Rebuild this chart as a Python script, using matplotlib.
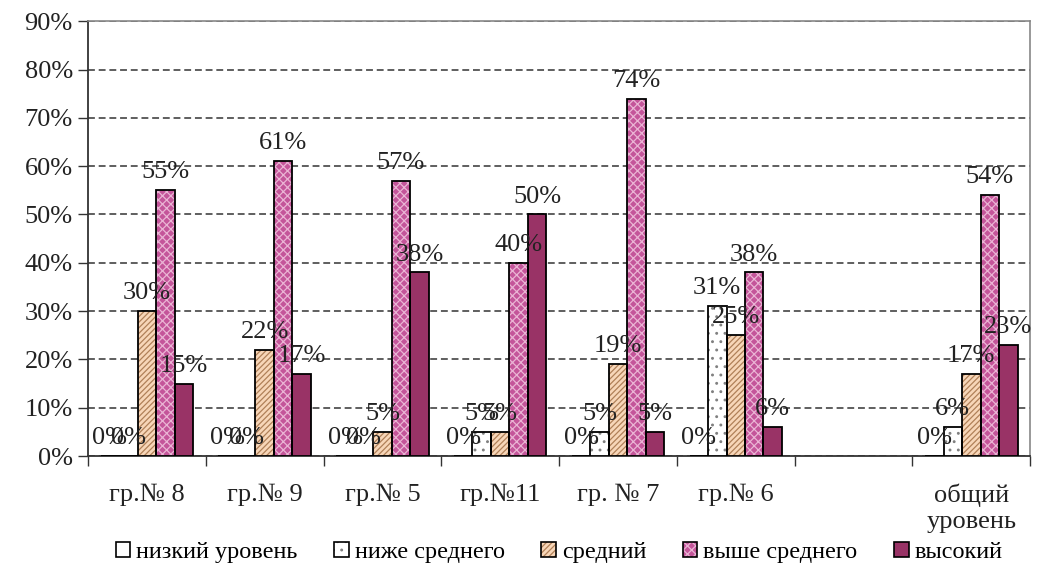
import numpy as np
import matplotlib
matplotlib.use("Agg")
import matplotlib.pyplot as plt
from matplotlib.patches import Patch
from matplotlib.legend_handler import HandlerTuple

plt.rcParams['font.family'] = ['Liberation Serif', 'DejaVu Serif']
plt.rcParams['hatch.linewidth'] = 0.9

categories = ["гр.№ 8", "гр.№ 9", "гр.№ 5", "гр.№11", "гр. № 7", "гр.№ 6", "", "общий\nуровень"]
series_names = ["низкий уровень", "ниже среднего", "средний", "выше среднего", "высокий"]
nan = np.nan
low = [0, 0, 0, 0, 0, 0, nan, 0]
below_avg = [0, 0, 0, 5, 5, 31, nan, 6]
average = [30, 22, 5, 5, 19, 25, nan, 17]
above_avg = [55, 61, 57, 40, 74, 38, nan, 54]
high = [15, 17, 38, 50, 5, 6, nan, 23]
values = [low, below_avg, average, above_avg, high]
yticks = [0, 10, 20, 30, 40, 50, 60, 70, 80, 90]

faces = ["white", "white", "#f7d6b8", "#c4559a", "#993366"]
hatch_cols = ["white", "#808080", "#b08058", "#eab4d4", "#993366"]
hatches = [None, "..", "//////", "xxxx", None]

fig = plt.figure(figsize=(10.48, 5.73), dpi=100)
ax = fig.add_axes([0.084, 0.204, 0.899, 0.759])

x = np.arange(len(categories))
w = 0.157
handles = []
for i, vals in enumerate(values):
    v = np.array(vals, dtype=float)
    pos = x + (i - 2) * w
    ax.bar(pos, v, w, color=faces[i], edgecolor=hatch_cols[i], hatch=hatches[i], linewidth=0, zorder=3)
    ax.bar(pos, v, w, fill=False, edgecolor="black", linewidth=1.3, zorder=4)
    for p, val in zip(pos, v):
        if not np.isnan(val):
            ax.annotate(f"{int(val)}%", (p, val), xytext=(0, 5), textcoords="offset points",
                        ha="center", va="bottom", fontsize=19, color="#222222", zorder=5)
    h1 = Patch(facecolor=faces[i], edgecolor=hatch_cols[i], hatch=hatches[i], linewidth=0)
    h2 = Patch(fill=False, edgecolor="black", linewidth=1.2)
    handles.append((h1, h2))

ax.set_ylim(0, 90)
ax.set_xlim(-0.5, len(categories) - 0.5)
ax.set_yticks(yticks)
ax.set_yticklabels([f"{t}%" for t in yticks], fontsize=19, color="#222222")
ax.yaxis.grid(True, linestyle=(0, (4.5, 2.5)), color="#333333", linewidth=1.1, zorder=0)

ax.set_xticks(x)
ax.set_xticklabels(categories, fontsize=19, color="#222222", linespacing=1.2)
ax.tick_params(axis="x", which="major", length=0, pad=20)
ax.set_xticks(np.arange(-0.5, len(categories)), minor=True)
ax.tick_params(axis="x", which="minor", length=7, width=1, color="#333333")
ax.tick_params(axis="y", length=7, width=1, color="#333333", pad=4)

for s in ["top", "right"]:
    ax.spines[s].set_color("#888888")
    ax.spines[s].set_linewidth(1.2)
for s in ["left", "bottom"]:
    ax.spines[s].set_color("#333333")
    ax.spines[s].set_linewidth(1.3)

ax.legend(handles, series_names, handler_map={tuple: HandlerTuple(ndivide=1, pad=0)},
          loc="upper center", bbox_to_anchor=(0.5, -0.175), ncol=5, frameon=False,
          fontsize=17.5, handlelength=0.6, handleheight=0.6, handletextpad=0.25,
          columnspacing=1.5, borderaxespad=0)

fig.savefig("out.png", dpi=100)
